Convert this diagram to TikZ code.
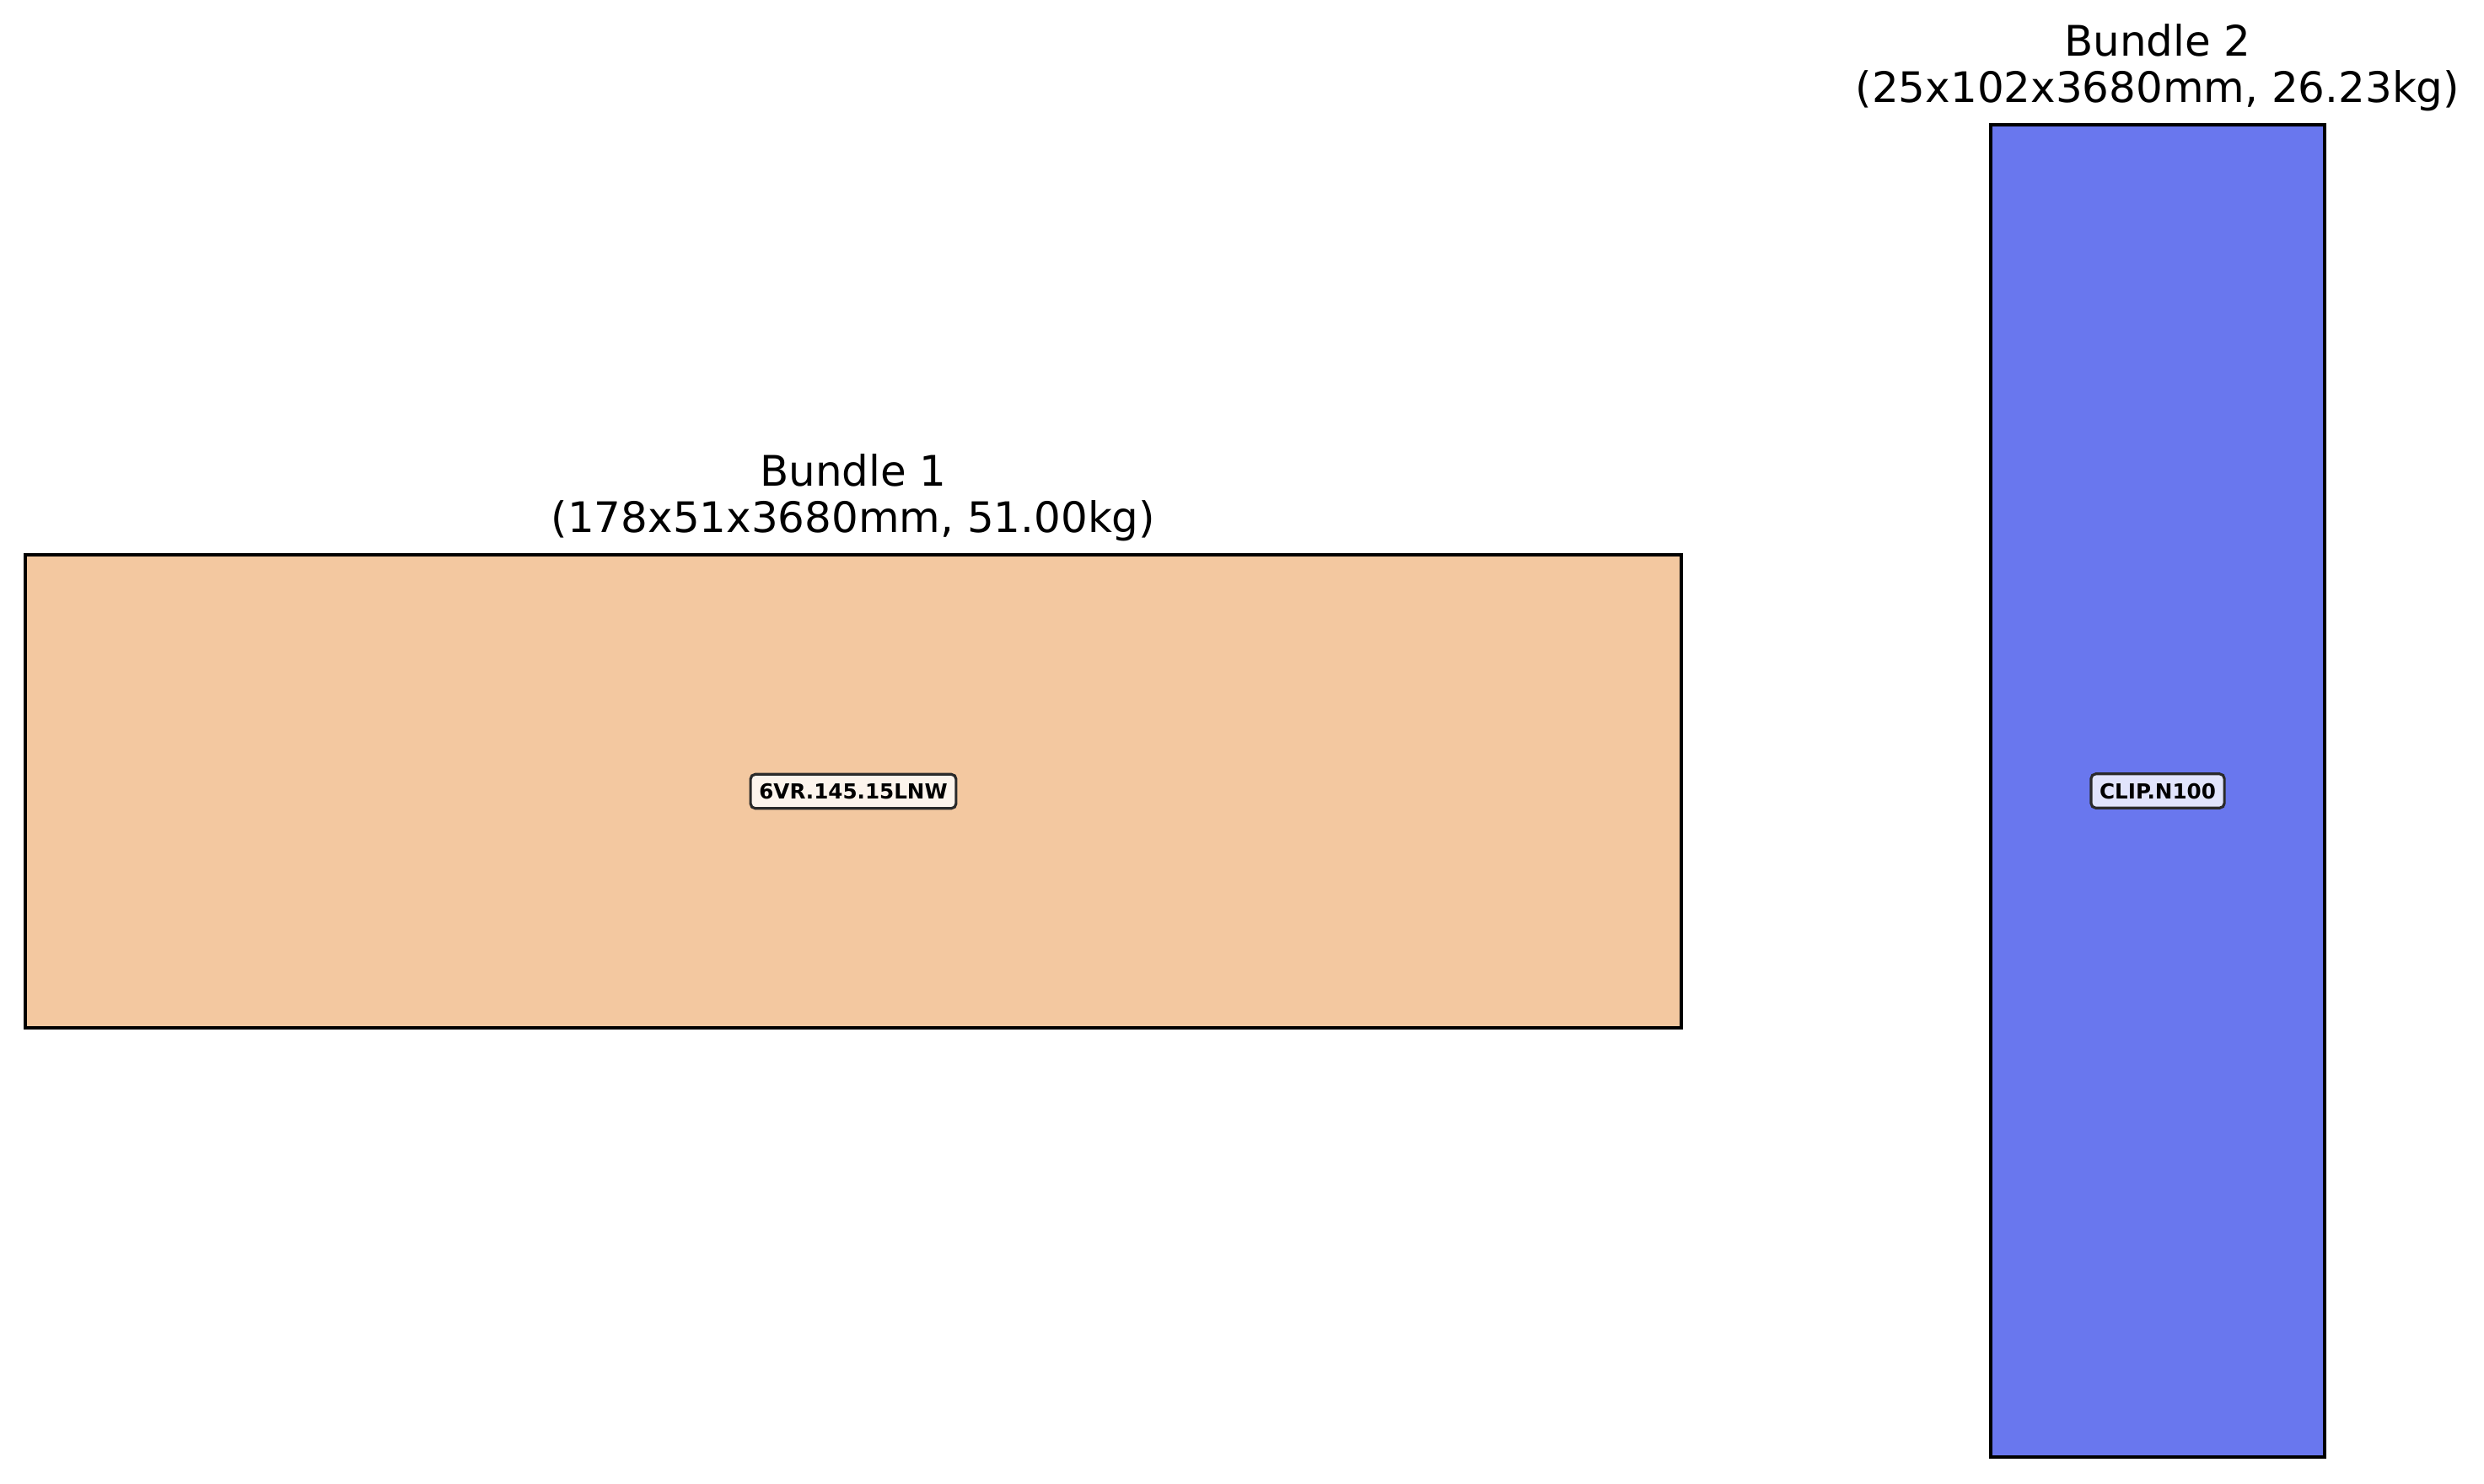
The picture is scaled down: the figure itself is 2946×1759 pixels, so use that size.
\documentclass[tikz,border=0pt]{standalone}
\usepackage{fontspec}
\setmainfont{DejaVu Sans}
\usetikzlibrary{calc,positioning}

\definecolor{bundleorange}{HTML}{F3C8A0}
\definecolor{bundleblue}{HTML}{6977EE}
\definecolor{tagorange}{HTML}{FCF4EC}
\definecolor{tagblue}{HTML}{E1E4FC}
\definecolor{tagedge}{HTML}{2A2A2A}

\tikzset{
   bundle/.style={draw=black,line width=0.95pt},
   tag/.style={draw=tagedge,line width=0.9pt,rounded corners=1.6pt,
      inner xsep=2.9pt,inner ysep=3.2pt,text height=5.1pt,text depth=0pt,
      font=\fontsize{7}{8}\selectfont\bfseries},
   caption/.style={align=center,anchor=south,inner sep=0pt,yshift=4.3pt,
      font=\fontsize{14.2}{15.65}\selectfont}
}

\begin{document}
\begin{tikzpicture}[x=0.01cm,y=-0.01cm]
   \useasboundingbox (0,0) rectangle (2946,1759);
   % bundle corners
   \coordinate (oneul) at (30,658);
   \coordinate (onelr) at (1994,1219);
   \coordinate (twoul) at (2361,148);
   \coordinate (twolr) at (2757,1728);
   % draw bundles
   \filldraw[bundle,fill=bundleorange] (oneul) rectangle (onelr);
   \filldraw[bundle,fill=bundleblue] (twoul) rectangle (twolr);
   % part tags
   \node (tagone) [tag,fill=tagorange] at ($(oneul)!0.5!(onelr)$) {6VR.145.15LNW};
   \node (tagtwo) [tag,fill=tagblue] at ($(twoul)!0.5!(twolr)$) {CLIP.N100};
   % titles
   \node (titleone) [caption] at ($(oneul)!0.5!(onelr |- oneul)$) {Bundle 1\\(178x51x3680mm, 51.00kg)};
   \node (titletwo) [caption] at ($(twoul)!0.5!(twolr |- twoul)$) {Bundle 2\\(25x102x3680mm, 26.23kg)};
\end{tikzpicture}
\end{document}
